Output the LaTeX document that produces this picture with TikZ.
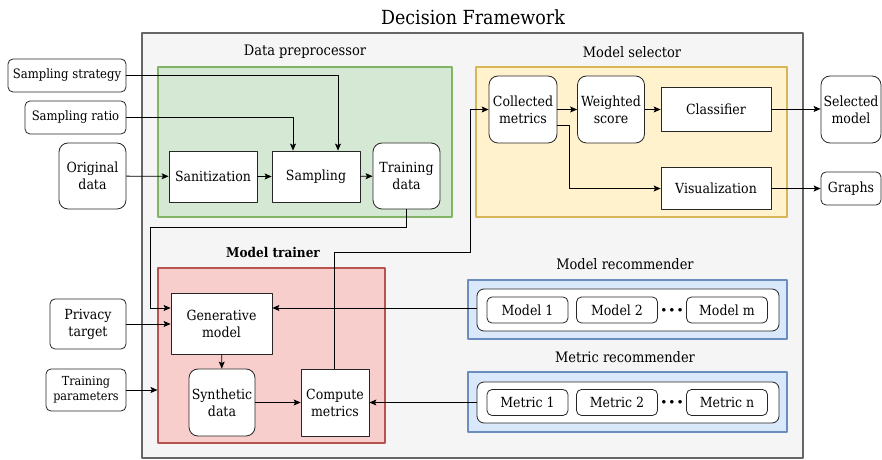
\documentclass[tikz,border=0pt]{standalone}
\usepackage{fontspec}
\setmainfont{DejaVu Serif Condensed}
\usepackage{tikz}
\usetikzlibrary{arrows.meta,shapes}
\definecolor{framefill}{HTML}{F5F5F5}
\definecolor{frameline}{HTML}{666666}
\definecolor{prepfill}{HTML}{D5E8D4}
\definecolor{prepline}{HTML}{82B366}
\definecolor{selfill}{HTML}{FFF2CC}
\definecolor{selline}{HTML}{D6B656}
\definecolor{trainfill}{HTML}{F8CECC}
\definecolor{trainline}{HTML}{B85450}
\definecolor{recfill}{HTML}{DAE8FC}
\definecolor{recline}{HTML}{6C8EBF}
\begin{document}
\begin{tikzpicture}[>={Stealth[length=7bp,width=6bp,inset=1.5bp]},line join=bevel,line width=0.8bp,
  txt/.style={font=\fontsize{14}{17}\selectfont,align=center,inner sep=1bp},
  blk/.style={txt,draw=black!85,fill=white,rectangle},
  rblk/.style={blk,rounded corners=9bp},
  sblk/.style={blk,rounded corners=5bp},
  grp/.style={draw,rectangle,line width=1.1bp},
  ttl/.style={font=\fontsize{14.5}{17}\selectfont}]
\useasboundingbox (0bp,0bp) rectangle (882bp,460bp);
%% frame and groups
\node (frame) at (472.5bp,214.5bp) [grp,fill=framefill,draw=frameline,minimum width=661bp,minimum height=425bp] {};
\node (title) at (473bp,443bp) [font=\fontsize{19.5}{22}\selectfont] {Decision Framework};
\node (prep) at (305bp,318bp) [grp,fill=prepfill,draw=prepline,minimum width=294bp,minimum height=150bp] {};
\node (sel) at (631.5bp,318bp) [grp,fill=selfill,draw=selline,minimum width=311bp,minimum height=150bp] {};
\node (train) at (271.5bp,104.5bp) [grp,fill=trainfill,draw=trainline,minimum width=227bp,minimum height=175bp] {};
\node (modrec) at (627.5bp,150.5bp) [grp,fill=recfill,draw=recline,minimum width=319bp,minimum height=59bp] {};
\node (metrec) at (627.5bp,58bp) [grp,fill=recfill,draw=recline,minimum width=319bp,minimum height=60bp] {};
\node (prepL) at (305bp,408bp) [ttl] {Data preprocessor};
\node (selL) at (632bp,408bp) [ttl] {Model selector};
\node (trainL) at (273bp,208bp) [ttl,font=\fontsize{13.5}{16}\selectfont\bfseries] {Model trainer};
\node (modrecL) at (625bp,196bp) [ttl] {Model recommender};
\node (metrecL) at (625bp,103bp) [ttl] {Metric recommender};
%% inputs
\node (strat) at (67bp,384.5bp) [sblk,minimum width=118bp,minimum height=33bp,font=\fontsize{13}{15}\selectfont] {Sampling strategy};
\node (ratio) at (75.5bp,342.5bp) [sblk,minimum width=101bp,minimum height=33bp,font=\fontsize{13}{15}\selectfont] {Sampling ratio};
\node (orig) at (92.5bp,284bp) [rblk,minimum width=67bp,minimum height=66bp] {Original\\data};
\node (privacy) at (88bp,136bp) [sblk,minimum width=76bp,minimum height=50bp] {Privacy\\target};
\node (params) at (86bp,70bp) [sblk,minimum width=80bp,minimum height=42bp,font=\fontsize{12.5}{15}\selectfont] {Training\\parameters};
%% data preprocessor
\node (sanit) at (213bp,283.5bp) [blk,minimum width=88bp,minimum height=51bp] {Sanitization};
\node (sampl) at (316bp,283.5bp) [blk,minimum width=88bp,minimum height=51bp] {Sampling};
\node (tdata) at (406.5bp,284bp) [rblk,minimum width=67bp,minimum height=66bp] {Training\\data};
%% model selector
\node (coll) at (523bp,350.5bp) [rblk,minimum width=68bp,minimum height=67bp] {Collected\\metrics};
\node (wscore) at (611bp,350.5bp) [rblk,minimum width=67bp,minimum height=67bp] {Weighted\\score};
\node (clf) at (716bp,351bp) [blk,minimum width=110bp,minimum height=44bp] {Classifier};
\node (vis) at (716bp,271.5bp) [blk,minimum width=110bp,minimum height=42bp] {Visualization};
\node (chosen) at (851bp,350.5bp) [rblk,minimum width=60bp,minimum height=67bp] {Selected\\model};
\node (graphs) at (851bp,271.5bp) [sblk,minimum width=60bp,minimum height=33bp] {Graphs};
%% model trainer
\node (gen) at (221.5bp,136.5bp) [blk,minimum width=101bp,minimum height=61bp] {Generative\\model};
\node (synth) at (222bp,57.5bp) [rblk,minimum width=66bp,minimum height=67bp] {Synthetic\\data};
\node (comp) at (335bp,57.5bp) [blk,minimum width=68bp,minimum height=67bp] {Compute\\metrics};
%% recommenders
\node (modlist) at (628bp,150bp) [sblk,rounded corners=7bp,minimum width=302bp,minimum height=42bp] {};
\node (mod1) at (527.5bp,150bp) [sblk,minimum width=81bp,minimum height=26bp] {Model 1};
\node (mod2) at (617bp,150bp) [sblk,minimum width=81bp,minimum height=26bp] {Model 2};
\node (modm) at (727bp,150bp) [sblk,minimum width=81bp,minimum height=26bp] {Model m};
\node (moddots) at (672bp,150bp) [txt,font=\fontsize{9}{10}\selectfont] {$\bullet\,\bullet\,\bullet$};
\node (metlist) at (628bp,57.5bp) [sblk,rounded corners=7bp,minimum width=302bp,minimum height=41bp] {};
\node (met1) at (527.5bp,57.5bp) [sblk,minimum width=81bp,minimum height=26bp] {Metric 1};
\node (met2) at (617bp,57.5bp) [sblk,minimum width=81bp,minimum height=26bp] {Metric 2};
\node (metn) at (727bp,57.5bp) [sblk,minimum width=81bp,minimum height=26bp] {Metric n};
\node (metdots) at (672bp,57.5bp) [txt,font=\fontsize{9}{10}\selectfont] {$\bullet\,\bullet\,\bullet$};
%% connectors
\draw [->] (strat.east) -| ([xshift=22bp]sampl.north);
\draw [->] (ratio.east) -| ([xshift=-23bp]sampl.north);
\draw [->] (orig) -- (sanit);
\draw [->] (sanit) -- (sampl);
\draw [->] (sampl) -- (tdata);
\draw [->] (tdata.south) |- (150bp,233bp) |- ([yshift=15.5bp]gen.west);
\draw [->] (privacy.east) -- (gen.west |- privacy.east);
\draw [->] (params.east) -- (train.west |- params.east);
\draw [->] (gen) -- (synth);
\draw [->] (synth) -- (comp);
\draw [->] ([xshift=-1bp]comp.north) |- (470bp,208bp) |- (coll.west);
\draw [->] ([yshift=2bp]modlist.west) -- ([yshift=2bp]modlist.west -| gen.east);
\draw [->] (metlist.west) -- (metlist.west -| comp.east);
\draw [->] (coll) -- (wscore);
\draw [->] (wscore.east) -- (clf.west |- wscore.east);
\draw [->] (clf.east) -- (chosen.west |- clf.east);
\draw [->] ([yshift=-16bp]coll.east) -- ++(12bp,0bp) |- (vis.west);
\draw [->] (vis) -- (graphs);
%
\end{tikzpicture}
\end{document}
